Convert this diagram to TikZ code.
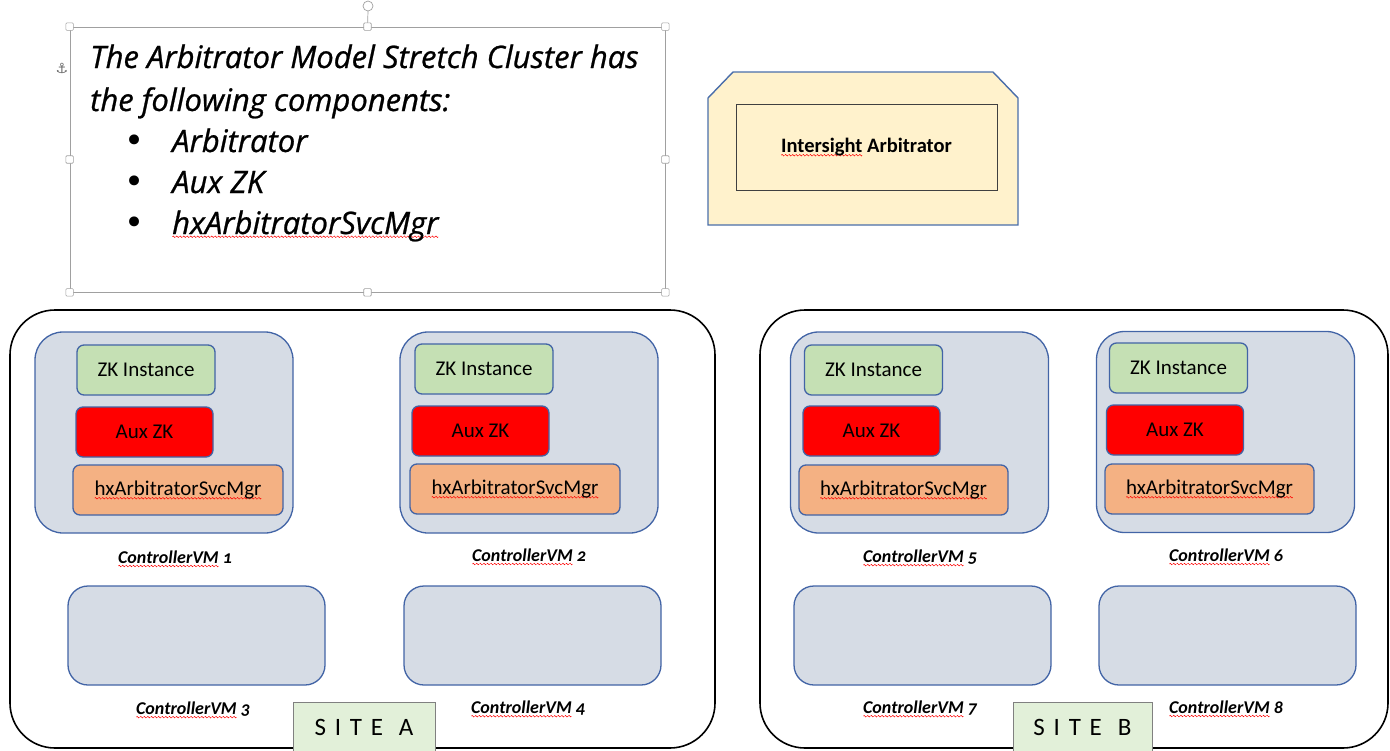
\documentclass[tikz,border=0pt]{standalone}
\usepackage{fontspec}
\setmainfont{Carlito}
\newfontfamily\handfont{Open Sans}[FakeBold=0.8]
\newfontfamily\vmfont{Carlito}[Numbers=OldStyle]
\newfontfamily\sitefont{Carlito}[LetterSpace=35]
\newfontfamily\symfont{DejaVu Sans}

% red wavy underline of a spell checker
\newsavebox\wavebox
\sbox\wavebox{\tikz\draw[red,line width=0.5pt] (0,0) sin (0.75pt,0.8pt) cos (1.5pt,0)
  sin (2.25pt,-0.8pt) cos (3pt,0);}
\newcommand\spellwave[1]{\setbox0\hbox{#1}\leavevmode
  \rlap{\raisebox{-3.8pt}[0pt][0pt]{\hbox to \wd0{\xleaders\copy\wavebox\hfill}}}\box0\relax}

\definecolor{vmblue}{RGB}{66,100,166}
\definecolor{vmfill}{RGB}{214,220,229}
\definecolor{zkgreen}{RGB}{197,224,180}
\definecolor{auxred}{RGB}{255,0,0}
\definecolor{svcorange}{RGB}{244,177,131}
\definecolor{sitegreen}{RGB}{226,240,217}
\definecolor{arbyellow}{RGB}{255,242,204}
\definecolor{arbblue}{RGB}{74,110,170}
\definecolor{handlegray}{RGB}{160,160,160}

\begin{document}
\begin{tikzpicture}[x=1pt,y=-1pt,
  site/.style={draw=black, line width=1.6pt, rounded corners=45pt, inner sep=0},
  vm/.style={draw=vmblue, line width=1.3pt, fill=vmfill, rounded corners=28pt,
    minimum width=258pt, minimum height=201pt, inner sep=0},
  vmlow/.style={vm, rounded corners=20pt, minimum width=257pt, minimum height=99pt},
  comp/.style={draw=vmblue, line width=1.3pt, rounded corners=7pt, minimum height=50pt,
    inner sep=0, font=\fontsize{21}{23}\selectfont},
  zk/.style={comp, fill=zkgreen, minimum width=138pt},
  aux/.style={comp, fill=auxred, minimum width=137pt},
  svc/.style={comp, fill=svcorange, minimum width=210pt},
  vmlabel/.style={font=\vmfont\bfseries\itshape\fontsize{18}{20}\selectfont, inner sep=0},
  sitetag/.style={draw=gray, line width=0.8pt, fill=sitegreen, minimum width=142pt,
    minimum height=50pt, inner sep=0, text depth=0pt,
    font=\sitefont\fontsize{25}{27}\selectfont},
  handle/.style={draw=handlegray, fill=white, minimum size=7.5pt, inner sep=0,
    line width=0.6pt, rounded corners=1pt},
  handtext/.style={font=\handfont\itshape\fontsize{31}{33}\selectfont,
    anchor=base west, inner sep=0},
  bullet/.style={font=\symfont\fontsize{34}{34}\selectfont, inner sep=0},
]
\useasboundingbox (0,0) rectangle (1390,750);

% ---------- text box with its selection handles ----------
\node[draw=handlegray, line width=0.8pt, minimum width=595pt, minimum height=265pt,
  inner sep=0] (tb) at (367.5,159.5) {};
\coordinate (rot) at (368,6);
\draw[handlegray, line width=0.7pt] (tb.north) -- ([yshift=-5pt]rot);
\draw[handlegray, line width=0.7pt] (rot) circle[radius=5pt];
\foreach \a in {north west,north,north east,west,east,south west,south,south east}
  \node[handle] at (tb.\a) {};
\node[text=black!60, font=\symfont\fontsize{14}{14}\selectfont, inner sep=0] (anchorsym)
  at (62,68) {⚓};

\node[handtext] (t1) at (90,68) {The Arbitrator Model Stretch Cluster has};
\node[handtext] (t2) at (90,111) {the following components:};
\node[handtext] (i1) at (172,152) {Arbitrator};
\node[handtext] (i2) at (172,193) {Aux ZK};
\node[handtext] (i3) at (172,234) {\spellwave{hxArbitratorSvcMgr}};
\node[bullet] (b1) at (135,144) {•};
\node[bullet] (b2) at (135,185) {•};
\node[bullet] (b3) at (135,226) {•};

% ---------- Intersight Arbitrator ----------
\draw[fill=arbyellow, draw=arbblue, line width=1.4pt]
  (708,98) -- (733,72) -- (993,72) -- (1018,98) -- (1018,225) -- (708,225) -- cycle;
\node[draw=black!75, line width=1pt, minimum width=261pt, minimum height=86pt,
  inner sep=0, font=\bfseries\fontsize{20.5}{22}\selectfont] (arb) at (866.5,147)
  {\raisebox{-4pt}{\spellwave{Intersight} Arbitrator}};

% ---------- sites ----------
\node[site, minimum width=705pt, minimum height=438pt] (siteA) at (362.5,529) {};
\node[site, minimum width=628pt, minimum height=438pt] (siteB) at (1074,529) {};

% Site A controller VMs
\node[vm] (vm1) at (164,432.5) {};
\node[zk]  (zk1)  at (146,370)   {ZK Instance};
\node[aux] (aux1) at (144.5,432) {Aux ZK};
\node[svc] (svc1) at (178,490)   {\spellwave{hxArbitratorSvcMgr}};
\node[vm] (vm2) at (529,432.5) {};
\node[zk]  (zk2)  at (484,369)   {ZK Instance};
\node[aux] (aux2) at (480.5,431) {Aux ZK};
\node[svc] (svc2) at (515,489)   {\spellwave{hxArbitratorSvcMgr}};
\node[vmlow] (vm3) at (196.5,635.5) {};
\node[vmlow] (vm4) at (532.5,635.5) {};
\node[vmlabel] (l1) at (175,557) {\spellwave{ControllerVM} 1};
\node[vmlabel] (l2) at (529,555) {\spellwave{ControllerVM} 2};
\node[vmlabel] (l3) at (193,709) {\spellwave{ControllerVM} 3};
\node[vmlabel] (l4) at (528,708) {\spellwave{ControllerVM} 4};
\node[sitetag] (tagA) at (364,727) {SITE\hspace{16pt}A};

% Site B controller VMs
\node[vm] (vm5) at (919.5,432.5) {};
\node[zk]  (zk5)  at (873.5,370) {ZK Instance};
\node[aux] (aux5) at (871.5,431) {Aux ZK};
\node[svc, minimum width=209pt] (svc5) at (903.5,490) {\spellwave{hxArbitratorSvcMgr}};
\node[vm] (vm6) at (1225.5,432) {};
\node[zk]  (zk6)  at (1178.5,368) {ZK Instance};
\node[aux] (aux6) at (1175,430)   {Aux ZK};
\node[svc, minimum width=209pt] (svc6) at (1209.5,489) {\spellwave{hxArbitratorSvcMgr}};
\node[vmlow] (vm7) at (922.5,635.5) {};
\node[vmlow] (vm8) at (1227.5,635.5) {};
\node[vmlabel] (l5) at (920,557)  {\spellwave{ControllerVM} 5};
\node[vmlabel] (l6) at (1226,555) {\spellwave{ControllerVM} 6};
\node[vmlabel] (l7) at (920,708)  {\spellwave{ControllerVM} 7};
\node[vmlabel] (l8) at (1226,707) {\spellwave{ControllerVM} 8};
\node[sitetag, minimum width=139pt] (tagB) at (1082.5,727) {SITE\hspace{16pt}B};
\end{tikzpicture}
\end{document}
